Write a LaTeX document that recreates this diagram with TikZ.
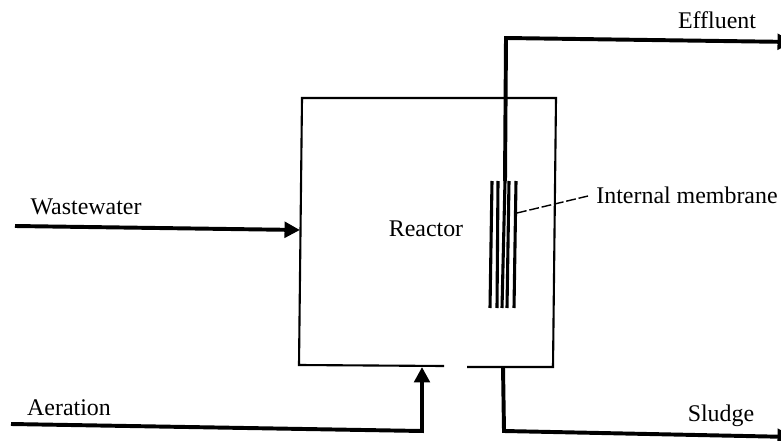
\documentclass[tikz,border=0pt]{standalone}
\usepackage{fontspec}
\setmainfont{Liberation Serif}
\usetikzlibrary{arrows.meta}
\tikzset{
  wall/.style={line width=1.5pt},
  pipe/.style={line width=2.8pt},
  flow/.style={pipe,-{Triangle[length=11pt,width=11pt]}},
  fibre/.style={line width=2.2pt},
  label/.style={font=\fontsize{17}{20}\selectfont,inner sep=0pt}
}
\begin{document}
\begin{tikzpicture}[x=0.025cm,y=-0.025cm]
\useasboundingbox (0,0) rectangle (781,440);

% Reactor
\coordinate (tl) at (302,98);
\coordinate (tr) at (556,98);
\coordinate (br) at (553,367);
\coordinate (bl) at (299,365);
\coordinate (gapl) at (444,366);
\coordinate (gapr) at (467,367);
\draw[wall] (gapl) -- (bl) -- (tl) -- (tr) -- (br) -- (gapr);

\node[label] (reactor) at (426,229) {Reactor};

% Wastewater
\coordinate (wwin) at (15,226);
\coordinate (wwout) at (300,230);
\draw[flow] (wwin) -- (wwout);
\node[label] (wastewater) at (86,207) {Wastewater};

% Aeration
\coordinate (airin) at (11,424);
\coordinate (aircorner) at (422,431);
\coordinate (airout) at (422,367);
\draw[flow,line join=miter] (airin) -- (aircorner) -- (airout);
\node[label] (aeration) at (69,408) {Aeration};

% Membrane
\foreach \name/\xtop/\xbot in {a/492/490,b/498/497,c/505/502,d/509/507,e/516/514}{
  \coordinate (top\name) at (\xtop,181);
  \coordinate (bot\name) at (\xbot,308);
  \draw[fibre] (top\name) -- (bot\name);
}

\node[label] (membrane) at (687,195) {Internal membrane};
\coordinate (leada) at (517,213);
\coordinate (leadb) at (588,196);
\draw[dashed,dash pattern=on 7pt off 2pt,line width=1pt] (leada) -- (leadb);

% Effluent
\coordinate (effcorner) at (506,38);
\coordinate (effout) at (793,42);
\draw[flow] (topc) -- (effcorner) -- (effout);
\node[label] (effluent) at (717,20) {Effluent};

% Sludge
\coordinate (slin) at (503,367);
\coordinate (slcorner) at (504,431);
\coordinate (slout) at (793,437);
\draw[flow] (slin) -- (slcorner) -- (slout);
\node[label] (sludge) at (721,416) {Sludge};

\end{tikzpicture}
\end{document}
